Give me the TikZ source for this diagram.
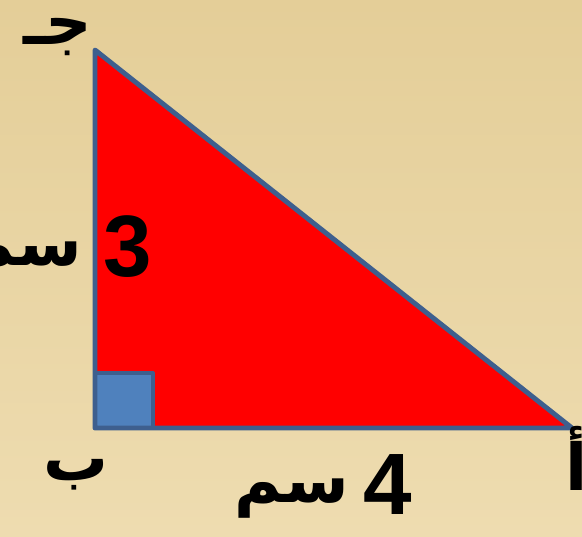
\documentclass[tikz,border=0pt]{standalone}
\usepackage{fontspec}
\setmainfont{Liberation Sans}
\newfontfamily\arabicfont[Script=Arabic]{DejaVu Sans}
\TeXXeTstate=1
\usetikzlibrary{positioning, calc}
\definecolor{PaperA}{HTML}{E4CE98}
\definecolor{PaperB}{HTML}{EEDCB0}
\definecolor{EdgeA}{HTML}{3E5F8E}
\definecolor{SqB}{HTML}{4F81BD}
\definecolor{TriB}{HTML}{FF0000}
\tikzset{
  num/.style={font=\fontsize{124}{124}\selectfont\bfseries, inner sep=0pt},
  ar/.style={font=\arabicfont\bfseries\fontsize{92}{92}\selectfont, inner sep=0pt, anchor=base},
  edge/.style={draw=EdgeA, line width=7pt, line join=round},
  rt/.style={draw=EdgeA, line width=5.5pt, fill=SqB, line join=round}
}
\begin{document}
\begin{tikzpicture}[x=0.05cm, y=-0.05cm]
  \fill[top color=PaperA, bottom color=PaperB] (0,0) rectangle (582,536);
  \useasboundingbox (0,0) rectangle (582,536);

  \coordinate (vC) at (95,50);
  \coordinate (vB) at (95,428);
  \coordinate (vA) at (572,428);

  \fill[TriB] (vC) -- (vB) -- (vA) -- cycle;
  \draw[rt] (vB) rectangle ++(58,-55);
  \draw[edge] (vC) -- (vB) -- (vA) -- cycle;

  \node[num] (h) at (128,247) {3};
  \node[num] (w) at (388,485) {4};
  \node[ar, anchor=base east] (hu) at (82,265) {\beginR سم\endR};
  \node[ar] (wu) at (292,502) {\beginR سم\endR};
  \node[ar] (lC) at (58,44) {\beginR جـ\endR};
  \node[ar] (lB) at (76,480) {\beginR ب\endR};
  \node[ar] (lA) at (577,490) {\beginR أ\endR};
\end{tikzpicture}
\end{document}
